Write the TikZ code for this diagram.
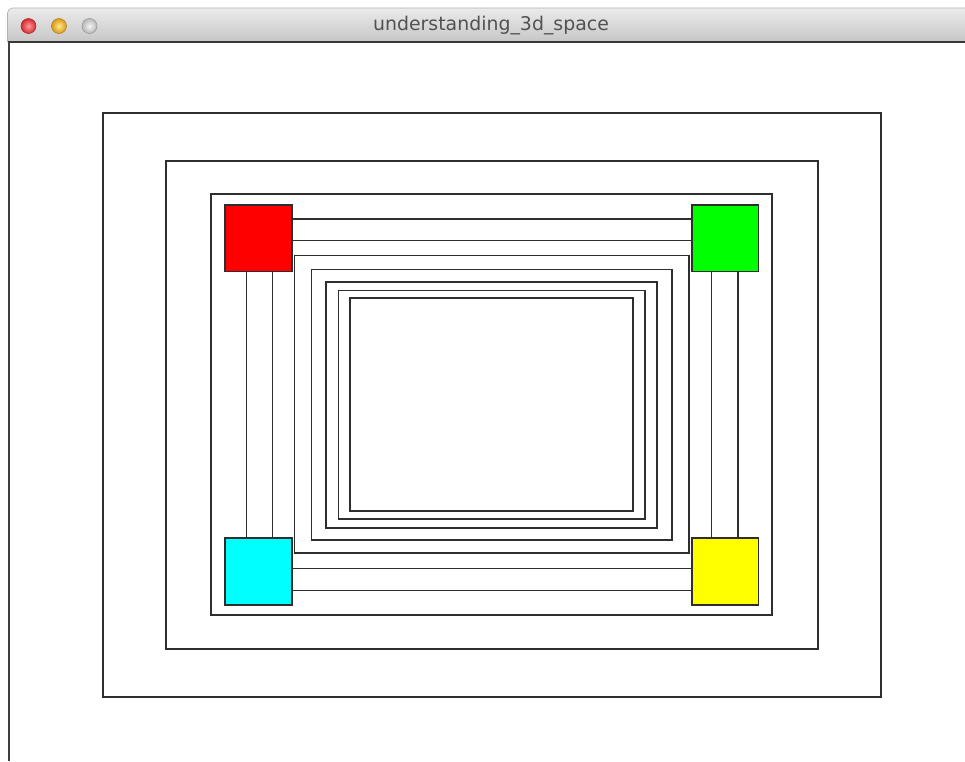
\documentclass[tikz,border=0pt]{standalone}
\usepackage{fontspec}
\setmainfont{DejaVu Sans}
\usetikzlibrary{calc}
\definecolor{edge}{HTML}{2E2E2E}
\definecolor{tbtop}{HTML}{EBEBEB}
\definecolor{tbbot}{HTML}{C6C6C6}
\definecolor{pred}{RGB}{255,0,0}
\definecolor{pgreen}{RGB}{0,255,0}
\definecolor{pcyan}{RGB}{0,255,255}
\definecolor{pyellow}{RGB}{255,255,0}
\definecolor{lclosein}{HTML}{FF9A9A}
\definecolor{lcloseout}{HTML}{D42A30}
\definecolor{lminiin}{HTML}{FFE98A}
\definecolor{lminiout}{HTML}{D99A18}
\definecolor{lzoomin}{HTML}{F4F4F4}
\definecolor{lzoomout}{HTML}{B8B8B8}
\tikzset{
  frame/.style={draw=edge, line width=1.5pt},
  cubebox/.style={draw=edge, line width=1.5pt, minimum width=66.7pt, minimum height=66.7pt, inner sep=0pt},
  light/.style 2 args={circle, minimum size=15pt, inner sep=0pt, draw=#2!80!black, line width=0.5pt, inner color=#1, outer color=#2}
}
\begin{document}
\begin{tikzpicture}[x=1pt,y=-1pt]
\useasboundingbox (0,0) rectangle (965,761);
\clip (0,0) rectangle (965,761);
\fill[white] (0,0) rectangle (965,761);
% window title bar
\shade[top color=tbtop, bottom color=tbbot] (7.5,42) {[rounded corners=5pt] -- (7.5,8) -- (975,8)} -- (975,42) -- cycle;
\draw[black!30, line width=0.6pt] (7.5,42) {[rounded corners=5pt] -- (7.5,8) -- (975,8)};
\draw[black!78, line width=1.5pt] (7.5,42) -- (965,42);
\draw[black!75, line width=2pt] (8.5,42) -- (8.5,761);
\node[light={lclosein}{lcloseout}] (close) at (28.5,26) {};
\node[light={lminiin}{lminiout}] (mini) at (59,26) {};
\node[light={lzoomin}{lzoomout}] (zoom) at (89.5,26) {};
\node[text=black!68, inner sep=0pt] (title) at (491,26) {\fontsize{18.9}{20}\selectfont understanding\_3d\_space};
% nested frames
\draw[frame] (103,113) rectangle (881,697);
\draw[frame] (166,161) rectangle (818,649);
\draw[frame] (211,194) rectangle (772,615);
\draw[frame] (294.5,255.5) rectangle (689,553);
\draw[frame] (311.5,269.5) rectangle (672,540);
\draw[frame] (326,282) rectangle (657,528);
\draw[frame] (338.5,290.5) rectangle (645,519);
\draw[frame] (350,298) rectangle (633,511);
% corner boxes
\node[cubebox, fill=pred] (red) at (258.5,238.3) {};
\node[cubebox, fill=pgreen] (green) at (725.3,238.3) {};
\node[cubebox, fill=pcyan] (cyan) at (258.5,571.5) {};
\node[cubebox, fill=pyellow] (yellow) at (725.3,571.5) {};
% connecting edges
\draw[frame] ($(red.north east)!0.215!(red.south east)$) -- ($(green.north west)!0.215!(green.south west)$);
\draw[frame] ($(red.north east)!0.535!(red.south east)$) -- ($(green.north west)!0.535!(green.south west)$);
\draw[frame] ($(cyan.north east)!0.455!(cyan.south east)$) -- ($(yellow.north west)!0.455!(yellow.south west)$);
\draw[frame] ($(cyan.north east)!0.78!(cyan.south east)$) -- ($(yellow.north west)!0.78!(yellow.south west)$);
\draw[frame] ($(red.south west)!0.325!(red.south east)$) -- ($(cyan.north west)!0.325!(cyan.north east)$);
\draw[frame] ($(red.south west)!0.705!(red.south east)$) -- ($(cyan.north west)!0.705!(cyan.north east)$);
\draw[frame] ($(green.south west)!0.295!(green.south east)$) -- ($(yellow.north west)!0.295!(yellow.north east)$);
\draw[frame] ($(green.south west)!0.685!(green.south east)$) -- ($(yellow.north west)!0.685!(yellow.north east)$);
\end{tikzpicture}
\end{document}
